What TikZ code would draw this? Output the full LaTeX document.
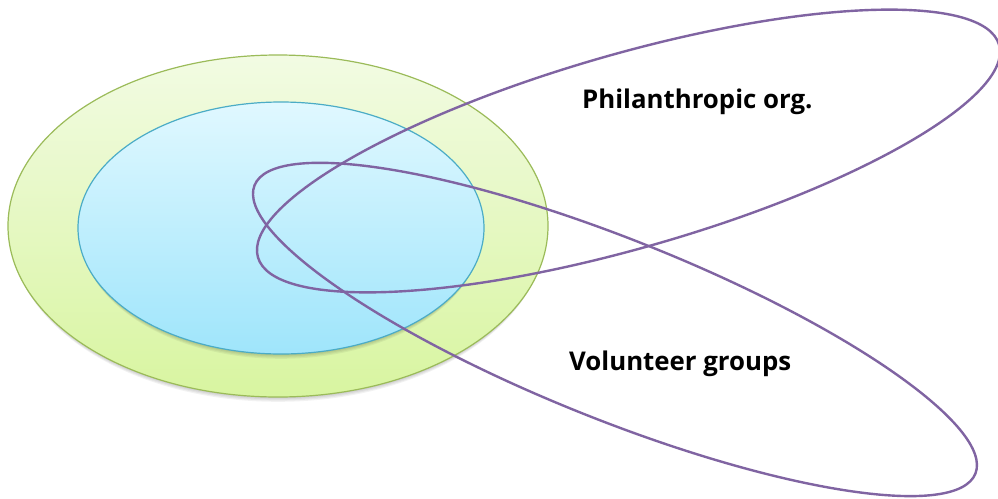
\documentclass[tikz,border=0pt]{standalone}
\usepackage{fontspec}
\setmainfont{Open Sans}
\begin{document}
\begin{tikzpicture}[x=1pt,y=-1pt,
  purplering/.style={draw=ringpurple, line width=2.4pt},
  labeltext/.style={font=\bfseries\fontsize{25.8}{30}\selectfont, text=black, inner sep=0pt}]
\definecolor{ringpurple}{HTML}{8064A2}
\definecolor{greenedge}{HTML}{9BBB59}
\definecolor{blueedge}{HTML}{4BACC6}
\definecolor{greentop}{HTML}{F2FBE3}
\definecolor{greenbot}{HTML}{D8F5A0}
\definecolor{bluetop}{HTML}{E0F8FF}
\definecolor{bluebot}{HTML}{9FE5FB}
\useasboundingbox (0,0) rectangle (998,498);
\fill[white] (0,0) rectangle (998,498);
% shadows
\foreach \k in {1,...,4}{
  \fill[black, opacity=0.05] (278,226+1.2*\k) ellipse [x radius=270-0.6*\k, y radius=171];
}
\shade[top color=greentop, bottom color=greenbot, draw=greenedge, line width=1.2pt]
  (278,226) ellipse [x radius=270, y radius=171];
\foreach \k in {1,...,4}{
  \fill[black, opacity=0.05] (281,228+1.2*\k) ellipse [x radius=203-0.6*\k, y radius=126];
}
\shade[top color=bluetop, bottom color=bluebot, draw=blueedge, line width=1.2pt]
  (281,228) ellipse [x radius=203, y radius=126];
% purple rings
\coordinate (pc) at (628.5,151);
\coordinate (vc) at (615,329.5);
\draw[purplering, rotate around={16:(pc)}] (pc) ellipse [x radius=385.5, y radius=97];
\draw[purplering, rotate around={-21.8:(vc)}] (vc) ellipse [x radius=388.2, y radius=90];
% labels
\node[labeltext, anchor=base west] (phil) at (582,108) {Philanthropic org.};
\node[labeltext, anchor=base west] (vol) at (569,370) {Volunteer groups};
\end{tikzpicture}
\end{document}
